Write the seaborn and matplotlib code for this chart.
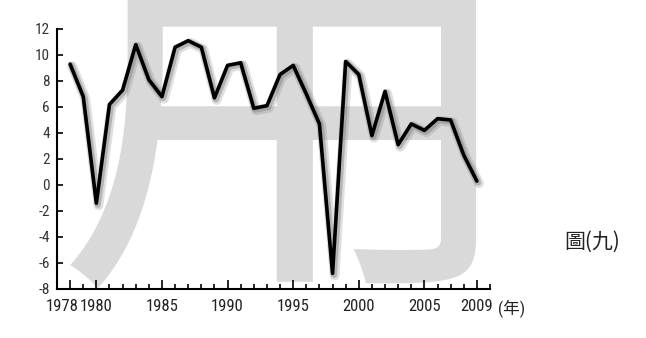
import matplotlib
matplotlib.use("Agg")
import matplotlib.pyplot as plt
import matplotlib.patheffects as pe
from matplotlib.ticker import MultipleLocator, FixedLocator
from matplotlib.textpath import TextPath
from matplotlib.transforms import ScaledTranslation
from matplotlib.font_manager import FontProperties, findfont
import seaborn as sns
import pandas as pd

# ---- data ----
years = list(range(1978, 2010))
growth = [9.3, 6.8, -1.4, 6.2, 7.3, 10.8, 8.1, 6.8, 10.6, 11.1,
          10.6, 6.7, 9.2, 9.4, 5.9, 6.1, 8.5, 9.2, 7.0, 4.7,
          -6.8, 9.5, 8.5, 3.8, 7.2, 3.1, 4.7, 4.2, 5.1, 5.0,
          2.3, 0.3]
xtick_years = [1978, 1980, 1985, 1990, 1995, 2000, 2005, 2009]
xtick_labels = ["1978", "1980", "1985", "1990", "1995", "2000", "2005", "2009"]
yticks = [-8, -6, -4, -2, 0, 2, 4, 6, 8, 10, 12]
unit_label = "(年)"
figure_label = "圖(九)"
watermark = "用"

df = pd.DataFrame({"year": years, "growth": growth})

W, H, DPI = 646, 338, 100


def pick(fams):
    for f in fams:
        try:
            findfont(FontProperties(family=f), fallback_to_default=False)
            return f
        except Exception:
            pass
    return "DejaVu Sans"


narrow = pick(["Liberation Sans Narrow", "Arial Narrow", "Roboto Condensed",
               "Liberation Sans"])
cjk = "Noto Sans CJK TC"

sns.set_theme(style="white")
plt.rcParams["font.family"] = [narrow, cjk, "DejaVu Sans"]
plt.rcParams["axes.unicode_minus"] = False

fig = plt.figure(figsize=(W / DPI, H / DPI), dpi=DPI)
fig.patch.set_facecolor("white")
ax = fig.add_axes([57 / W, 1 - 289 / H, (490 - 57) / W, (289 - 29) / H])
ax.set_facecolor("none")

# ---- watermark (large gray character behind the chart) ----
wm_prop = FontProperties(family=cjk, weight="normal")
tp = TextPath((0, 0), watermark, size=1, prop=wm_prop)
ext = tp.get_extents()
L, R, B = 70, 476, 288
size_px = (R - L) / ext.width
fs_pt = size_px * 72 / DPI
fig.text((L - ext.x0 * size_px) / W, ((H - B) - ext.y0 * size_px) / H,
         watermark, fontproperties=wm_prop, fontsize=fs_pt,
         color="#d9d9d9", ha="left", va="baseline", zorder=-5)

# ---- line ----
sns.lineplot(data=df, x="year", y="growth", ax=ax, color="black",
             linewidth=2.6, zorder=5,
             path_effects=[
                 pe.SimpleLineShadow(offset=(1.5, -1.5), shadow_color="gray",
                                     alpha=0.25, linewidth=7),
                 pe.SimpleLineShadow(offset=(1.0, -1.0), shadow_color="gray",
                                     alpha=0.45, linewidth=4.5),
                 pe.Normal()])

ax.set_xlim(1977, 2010)
ax.set_ylim(-8, 12)
ax.set_xlabel("")
ax.set_ylabel("")

for s in ["top", "right"]:
    ax.spines[s].set_visible(False)
for s in ["left", "bottom"]:
    ax.spines[s].set_color("black")
    ax.spines[s].set_linewidth(1.5)

ax.xaxis.set_major_locator(FixedLocator(xtick_years))
ax.set_xticklabels(xtick_labels)
ax.xaxis.set_minor_locator(MultipleLocator(1))
ax.set_yticks(yticks)
ax.set_yticklabels([str(v) for v in yticks])

ax.tick_params(axis="x", which="major", direction="in", length=6.5, width=1.2,
               color="black", labelsize=12, pad=7, labelcolor="#222222")
ax.tick_params(axis="x", which="minor", direction="in", length=3.5, width=1.2,
               color="black")
ax.tick_params(axis="y", which="major", direction="in", length=4.5, width=1.2,
               color="black", labelsize=11, pad=5, labelcolor="#333333")
ax.tick_params(left=True, bottom=True)
ax.tick_params(axis="x", which="minor", bottom=True)

# the first year label sits a little left of its tick, as in the original
first = ax.get_xticklabels()[0]
first.set_transform(first.get_transform() +
                    ScaledTranslation(-8 / DPI, 0, fig.dpi_scale_trans))

ax.annotate(unit_label, xy=(2010.6, 0), xycoords=("data", "axes fraction"),
            xytext=(0, -7), textcoords="offset points", ha="left", va="top",
            fontsize=12, color="#222222", family=[narrow, cjk])

fig.text(592 / W, 1 - 242 / H, figure_label, ha="center", va="center",
         fontsize=15, color="#222222", family=[cjk])

fig.savefig("out.png", dpi=DPI, facecolor="white")
